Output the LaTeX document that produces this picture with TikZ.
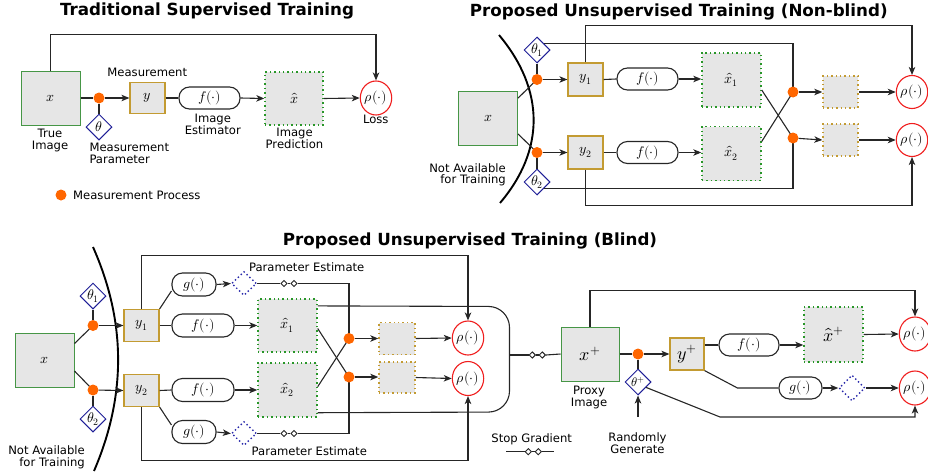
\documentclass[tikz,border=0pt]{standalone}
\usepackage{fontspec}
\usepackage{unicode-math}
\setmainfont{DejaVu Sans}
\setmathfont{Latin Modern Math}
\usetikzlibrary{arrows.meta,shapes.geometric,calc}
\definecolor{boxgray}{RGB}{230,230,230}
\definecolor{imggreen}{RGB}{70,150,70}
\definecolor{measgold}{RGB}{195,155,50}
\definecolor{pnavy}{RGB}{30,30,150}
\definecolor{lossred}{RGB}{240,30,30}
\definecolor{dotorange}{RGB}{255,102,0}
\definecolor{predgreen}{RGB}{40,150,40}
\definecolor{estblue}{RGB}{40,40,170}
\begin{document}
\begin{tikzpicture}[x=1pt,y=-1pt,
  >={Stealth[length=8pt,width=6.5pt,inset=2.2pt]},
  conn/.style={draw=black!85, line width=1.1pt},
  lbl/.style={font=\fontsize{11.6}{11.5}\selectfont, align=center, inner sep=0pt},
  ttl/.style={font=\fontsize{16.7}{18}\selectfont\bfseries, inner sep=0pt, anchor=base},
  mth/.style={font=\fontsize{14}{15}\selectfont},
  bigm/.style={font=\fontsize{18}{19}\selectfont},
  imgbox/.style={draw=imggreen, fill=boxgray, line width=1pt, minimum width=59pt, minimum height=54pt, inner sep=0pt, mth},
  measbox/.style={draw=measgold, fill=boxgray, line width=1.2pt, minimum width=35pt, minimum height=32pt, inner sep=0pt, mth},
  fbox/.style={draw=black!85, line width=1.1pt, rounded corners=10.5pt, minimum width=61pt, minimum height=22pt, inner sep=0pt, mth},
  gbox/.style={fbox, minimum width=44pt},
  predbox/.style={draw=predgreen, fill=boxgray, line width=1.4pt, dash pattern=on 1.4pt off 3pt, minimum width=58pt, minimum height=53pt, inner sep=0pt, mth},
  smallbox/.style={draw=measgold, fill=boxgray, line width=1.4pt, dash pattern=on 1.4pt off 3pt, minimum width=35pt, minimum height=32pt, inner sep=0pt},
  param/.style={diamond, draw=pnavy, fill=white, line width=1pt, minimum width=26pt, minimum height=26pt, inner sep=0pt, mth},
  estd/.style={diamond, draw=estblue, line width=1.4pt, dash pattern=on 1.4pt off 2.6pt, minimum width=25pt, minimum height=25pt, inner sep=0pt},
  loss/.style={ellipse, draw=lossred, fill=white, line width=1.1pt, minimum width=29pt, minimum height=34pt, inner sep=0pt, mth},
  mdot/.style={circle, fill=dotorange, minimum size=11pt, inner sep=0pt},
  sgd/.style={diamond, draw=black!85, fill=white, line width=0.9pt, minimum width=6.5pt, minimum height=6.5pt, inner sep=0pt},
  arc/.style={draw=black, line width=1.9pt}
]
\useasboundingbox (0,0) rectangle (928,471);

% ================= Traditional Supervised Training =================
\node[ttl] (T1) at (207,16) {Traditional Supervised Training};
\node[imgbox] (xa) at (50.5,98) {$x$};
\node[mdot] (dota) at (99,98) {};
\node[param] (ta) at (99,127) {$\theta$};
\node[measbox, minimum height=31pt] (ya) at (147.5,98) {$y$};
\node[fbox] (fa) at (209.5,98) {$f(\cdot)$};
\node[predbox] (pa) at (294,98.5) {$\hat{x}$};
\node[loss] (ra) at (376,98) {$\rho(\cdot)$};
\node[lbl, anchor=north] (lmeas) at (147.3,68.3) {Measurement};
\node[lbl, anchor=north] (ltrue) at (50,129.3) {True\\Image};
\node[lbl, anchor=north west, align=left] (lpar) at (89.3,143.3) {Measurement\\Parameter};
\node[lbl, anchor=north] (lest) at (212.8,114.3) {Image\\Estimator};
\node[lbl, anchor=north] (lpred) at (294.5,128.3) {Image\\Prediction};
\node[lbl, anchor=north] (lloss) at (375.8,115) {Loss};
\node[mdot] (legdot) at (61,195) {};
\node[lbl, anchor=west] (leg) at (73,195) {Measurement Process};
\draw[conn] (xa.east) -- (dota);
\draw[conn] (dota) -- (ta.north);
\draw[conn,->] (dota) -- (ya.west);
\draw[conn] (ya.east) -- (fa.west);
\draw[conn,->] (fa.east) -- (pa.west);
\draw[conn,->] (pa.east) -- (ra.west);
\draw[conn,->] (xa.north) -- ++(0,-36) -| (ra.north);

% ================= Non-blind =================
\node[ttl] (T2) at (678.8,16.7) {Proposed Unsupervised Training (Non-blind)};
\node[imgbox] (xb) at (488,118.5) {$x$};
\draw[arc] (499,35) .. controls (545,90) and (545,150) .. (500,203);
\node[lbl, anchor=north east, align=right] (lnab) at (506,163.3) {Not Available\\for Training};
\node[param] (tb1) at (537,50) {$\theta_1$};
\node[param] (tb2) at (537,182) {$\theta_2$};
\node[measbox, minimum height=33pt] (yb1) at (585.5,79.5) {$y_1$};
\node[measbox, minimum height=33pt] (yb2) at (585.5,152.5) {$y_2$};
\node[fbox] (fb1) at (647.5,79) {$f(\cdot)$};
\node[fbox] (fb2) at (647.5,152.5) {$f(\cdot)$};
\node[predbox, minimum width=59pt, minimum height=54pt] (pb1) at (731.5,80) {$\hat{x}_1$};
\node[predbox, minimum width=59pt, minimum height=54pt] (pb2) at (731.5,153.5) {$\hat{x}_2$};
\node[smallbox] (sb1) at (840.5,92) {};
\node[smallbox] (sb2) at (840.5,140) {};
\node[loss, minimum width=28pt, minimum height=33pt] (rb1) at (912,92) {$\rho(\cdot)$};
\node[loss, minimum width=28pt, minimum height=33pt] (rb2) at (912,140) {$\rho(\cdot)$};
\draw[conn] ($(xb.north east)!0.13!(xb.south east)$) -- (537,79.5) coordinate (da1c);
\draw[conn] ($(xb.south east)!0.22!(xb.north east)$) -- (537,152.5) coordinate (da2c);
\draw[conn] ($(tb1.north)!0.5!(tb1.east)$) -| (793,92) coordinate (db1c);
\draw[conn] ($(tb2.south)!0.5!(tb2.east)$) -| (793,138) coordinate (db2c);
\draw[conn] ($(pb1.east)+(0,10)$) -- (db2c);
\draw[conn] ($(pb2.east)+(0,-12)$) -- (db1c);
\node[mdot] (da1) at (da1c) {};
\node[mdot] (da2) at (da2c) {};
\node[mdot] (db1) at (db1c) {};
\node[mdot] (db2) at (db2c) {};
\draw[conn] (da1) -- (tb1.south);
\draw[conn] (da2) -- (tb2.north);
\draw[conn,->] (da1) -- (yb1.west);
\draw[conn,->] (da2) -- (yb2.west);
\draw[conn] (yb1.east) -- (fb1.west);
\draw[conn] (yb2.east) -- (fb2.west);
\draw[conn,->] (fb1.east) -- (pb1.west |- fb1.east);
\draw[conn,->] (fb2.east) -- (pb2.west |- fb2.east);
\draw[conn,->] (db1) -- (sb1.west);
\draw[conn,->] (db2) -- (sb2.west);
\draw[conn,->] (sb1.east) -- (rb1.west);
\draw[conn,->] (sb2.east) -- (rb2.west);
\draw[conn,->] (yb1.north) -- ++(0,-36.5) -| (rb1.north);
\draw[conn,->] (yb2.south) -- ++(0,36) -| (rb2.south);

% ================= Blind =================
\node[ttl] (T3) at (470,245.5) {Proposed Unsupervised Training (Blind)};
\node[imgbox] (xc) at (44.5,360) {$x$};
\draw[arc] (93,247) .. controls (126.3,322) and (126.3,396) .. (94,471);
\node[lbl, anchor=north east, align=right] (lnac) at (85,445.7) {Not Available\\for Training};
\node[param] (tc1) at (93,296) {$\theta_1$};
\node[param] (tc2) at (93,419) {$\theta_2$};
\node[measbox] (yc1) at (141.5,325.5) {$y_1$};
\node[measbox] (yc2) at (141.5,390.5) {$y_2$};
\node[gbox, minimum height=23pt] (gc1) at (194,284.5) {$g(\cdot)$};
\node[gbox, minimum height=23pt] (gc2) at (194,432) {$g(\cdot)$};
\node[fbox, minimum width=62pt, minimum height=23pt] (fc1) at (203,325.5) {$f(\cdot)$};
\node[fbox, minimum width=62pt, minimum height=23pt] (fc2) at (203,390) {$f(\cdot)$};
\node[estd, minimum height=24pt] (ec1) at (244,283.5) {};
\node[estd, minimum height=24pt] (ec2) at (244,433.5) {};
\node[predbox, minimum width=59pt] (pc1) at (287.5,325.5) {$\hat{x}_1$};
\node[predbox, minimum width=59pt, minimum height=54pt] (pc2) at (287.5,390) {$\hat{x}_2$};
\node[smallbox, minimum width=36pt] (sc1) at (397,338.5) {};
\node[smallbox, minimum width=36pt, minimum height=31pt] (sc2) at (397,377.5) {};
\node[loss, minimum width=30pt] (rc1) at (468,338) {$\rho(\cdot)$};
\node[loss, minimum width=30pt] (rc2) at (468,378.5) {$\rho(\cdot)$};
\node[lbl, anchor=north] (lpe1) at (306.7,262.7) {Parameter Estimate};
\node[lbl, anchor=north] (lpe2) at (309.3,446.7) {Parameter Estimate};
\node[sgd] (s1) at (284,283.5) {};
\node[sgd] (s2) at (294,283.5) {};
\node[sgd] (s3) at (284,433.5) {};
\node[sgd] (s4) at (294,433.5) {};
\draw[conn] ($(xc.north east)!0.2!(xc.south east)$) -- (93,325.5) coordinate (dc1c);
\draw[conn] ($(xc.south east)!0.3!(xc.north east)$) -- (93,390) coordinate (dc2c);
\coordinate (dd1c) at (349,338.5);
\coordinate (dd2c) at (349,377);
\draw[conn] (ec1.east) -- (s1.west) (s1.east) -- (s2.west);
\draw[conn] (s2.east) -| (dd1c);
\draw[conn] (ec2.east) -- (s3.west) (s3.east) -- (s4.west);
\draw[conn] (s4.east) -| (dd2c);
\draw[conn] ($(pc1.east)+(0,3)$) -- (dd2c);
\draw[conn] ($(pc2.east)+(0,-3.3)$) -- (dd1c);
\node[mdot] (dc1) at (dc1c) {};
\node[mdot] (dc2) at (dc2c) {};
\node[mdot] (dd1) at (dd1c) {};
\node[mdot] (dd2) at (dd2c) {};
\draw[conn] (dc1) -- (tc1.south);
\draw[conn] (dc2) -- (tc2.north);
\draw[conn,->] (dc1) -- (yc1.west);
\draw[conn,->] (dc2) -- (yc2.west);
\draw[conn] (yc1.east) -- (fc1.west);
\draw[conn] (yc2.east) -- (fc2.west);
\draw[conn] (yc1.north east) -- ($(gc1.west)+(0,6.5)$);
\draw[conn] (yc2.south east) -- ($(gc2.west)+(0,-7)$);
\draw[conn,->] (gc1.east) -- (ec1.west);
\draw[conn,->] (gc2.east) -- (ec2.west);
\draw[conn,->] (fc1.east) -- (pc1.west);
\draw[conn,->] (fc2.east) -- (pc2.west);
\draw[conn,->] (dd1) -- (sc1.west);
\draw[conn,->] (dd2) -- (sc2.west |- dd2);
\draw[conn,->] (sc1.east) -- (rc1.west);
\draw[conn,->] (sc2.east) -- (rc2.west);
\draw[conn,->] (yc1.north) -- ++(0,-53) -| (rc1.north);
\draw[conn,->] (yc2.south) -- ++(0,53) -| (rc2.south);
% bracket to stop gradient
\coordinate (bk) at (509.5,355);
\draw[conn, rounded corners=21pt] ($(pc1.north east)!0.14!(pc1.south east)$) -- (509.5,306.5) -- (509.5,412) -- ($(pc2.south east)!0.09!(pc2.north east)$);
\node[sgd] (s5) at (532.3,355) {};
\node[sgd] (s6) at (542.3,355) {};
\draw[conn] (bk) -- (s5.west) (s5.east) -- (s6.west);
% proxy branch
\node[imgbox, minimum width=58pt, bigm] (xp) at (590,354) {$x^+$};
\draw[conn] (s6.east) -- (xp.west);
\node[lbl, anchor=north] (lprox) at (589,386) {Proxy\\Image};
\node[mdot] (dp) at (638,354) {};
\node[param, font=\fontsize{12.5}{14}\selectfont] (tp) at (638,382) {$\theta^+$};
\node[measbox, minimum width=34pt, bigm] (yp) at (687,354) {$y^+$};
\node[fbox, minimum width=60pt] (fp) at (749,345) {$f(\cdot)$};
\node[predbox, minimum width=59pt, minimum height=55pt, bigm] (pp) at (833.5,334.5) {$\hat{x}^+$};
\node[loss, minimum width=30pt] (rp1) at (915,334) {$\rho(\cdot)$};
\node[loss, minimum width=30pt] (rp2) at (915,388) {$\rho(\cdot)$};
\node[gbox, minimum width=43pt] (gp) at (800.5,388) {$g(\cdot)$};
\node[estd, minimum width=26pt, minimum height=26pt] (ep) at (852,388) {};
\coordinate (rg) at (638,417);
\coordinate (bend) at (720,417);
\node[lbl, anchor=north] (lrg) at (637.5,432.7) {Randomly\\Generate};
\draw[conn] (xp.east) -- (dp);
\draw[conn] (dp) -- (tp.north);
\draw[conn,->] (dp) -- (yp.west);
\draw[conn] (yp.east |- fp.west) -- (fp.west);
\draw[conn,->] (fp.east) -- (pp.west |- fp.east);
\draw[conn,->] (pp.east) -- (rp1.west);
\draw[conn] (yp.south east) -- ($(gp.west)+(-41,0)$) -- (gp.west);
\draw[conn,->] (gp.east) -- (ep.west);
\draw[conn,->] (ep.east) -- (rp2.west);
\draw[conn,->] ($(tp.east)!0.4!(tp.south)$) -- (bend) -| (rp2.south);
\draw[conn,->] (rg) -- (tp.south);
\draw[conn,->] (xp.north) -- ++(0,-36) -| (rp1.north);
% stop gradient legend
\node[lbl, anchor=north] (lsg) at (531.7,433.3) {Stop Gradient};
\coordinate (sgl1) at (506,451.7);
\coordinate (sgl2) at (554.3,451.7);
\node[sgd] (s7) at (528.3,451.7) {};
\node[sgd] (s8) at (538.3,451.7) {};
\draw[conn] (sgl1) -- (s7.west) (s7.east) -- (s8.west) (s8.east) -- (sgl2);
\end{tikzpicture}
\end{document}
